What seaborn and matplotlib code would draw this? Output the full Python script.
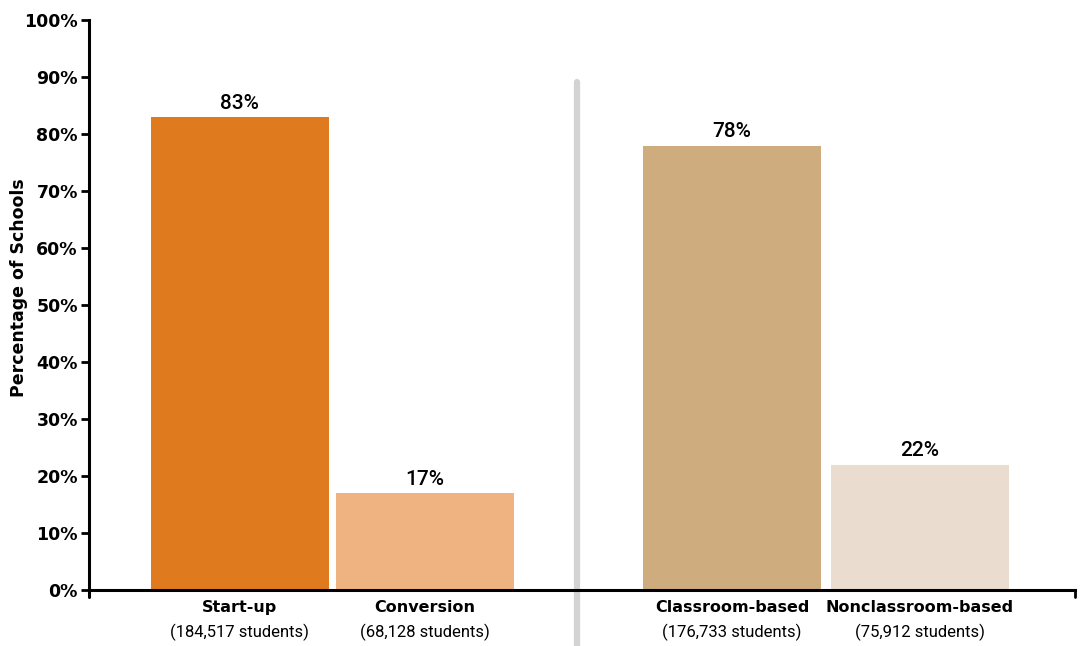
import matplotlib
matplotlib.use("Agg")
import matplotlib.pyplot as plt
from matplotlib.lines import Line2D
import seaborn as sns
import pandas as pd

# Chart data
categories = ["Start-up", "Conversion", "Classroom-based", "Nonclassroom-based"]
students = ["(184,517 students)", "(68,128 students)", "(176,733 students)", "(75,912 students)"]
percent = [83, 17, 78, 22]
positions = [0.0, 1.0, 2.66, 3.675]
colors = ["#E07A1F", "#EFB381", "#CFAC7E", "#EADDCF"]
yticks = list(range(0, 101, 10))
ytick_labels = [f"{t}%" for t in yticks]

sns.set_theme(style="white")
plt.rcParams["font.family"] = ["DejaVu Sans"]
narrow = ["Roboto", "DejaVu Sans"]

df = pd.DataFrame({"category": categories, "pos": positions, "pct": percent})

fig = plt.figure(figsize=(10.85, 6.46), dpi=100)
ax = fig.add_axes([0.082, 0.0867, 0.9088, 0.882])

sns.barplot(data=df, x="pos", y="pct", hue="category", palette=dict(zip(categories, colors)),
            native_scale=True, dodge=False, width=0.96, legend=False, ax=ax,
            saturation=1, edgecolor="none", linewidth=0)

ax.set_xlim(-0.816, 4.514)
ax.set_ylim(0, 100)
ax.set_yticks(yticks)
ax.set_yticklabels(ytick_labels, fontsize=12.5, fontweight="bold", color="black")
ax.set_xticks([])
ax.set_xlabel("")
ax.set_ylabel("Percentage of Schools", fontsize=12.5, fontweight="bold", color="black")
ax.yaxis.set_label_coords(-0.062, 0.53)

for side in ["top", "right"]:
    ax.spines[side].set_visible(False)
for side in ["left", "bottom"]:
    ax.spines[side].set_color("black")
    ax.spines[side].set_linewidth(2.2)
ax.tick_params(axis="y", left=True, length=6, width=2, color="black", pad=2)

# Axis end marks
ax.add_line(Line2D([-0.816, -0.816], [0, -1.3], color="black", lw=2.2, clip_on=False))
ax.add_line(Line2D([4.514, 4.514], [0, -1.3], color="black", lw=2, clip_on=False))

# Group separator
ax.add_line(Line2D([1.82, 1.82], [89.2, -12], color="#D3D3D3", lw=4.5,
                   solid_capstyle="round", clip_on=False, zorder=0))

# Value labels and category labels
for p, v, name, s in zip(positions, percent, categories, students):
    ax.text(p, v + 0.8, f"{v}%", ha="center", va="bottom", fontsize=15,
            family=narrow, fontweight="medium", color="black")
    ax.text(p, -1.7, name, ha="center", va="top", fontsize=11.5, fontweight="bold", color="black")
    ax.text(p, -5.9, s, ha="center", va="top", fontsize=12, family=narrow, color="black")

fig.savefig("out.png", dpi=100)
